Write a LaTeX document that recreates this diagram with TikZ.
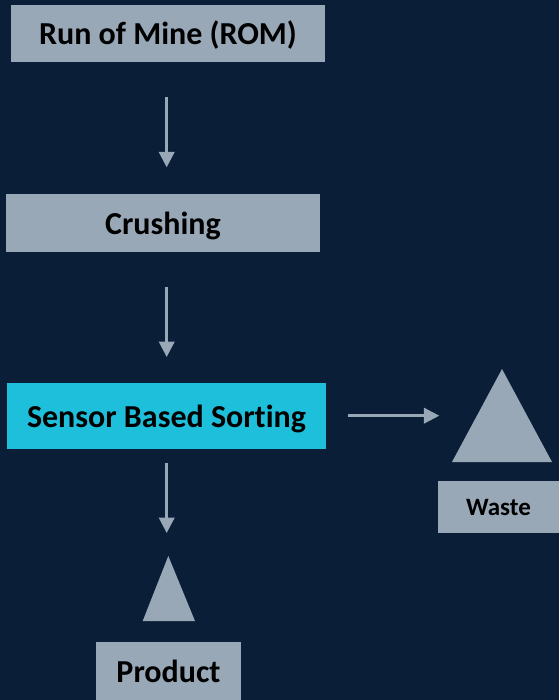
\documentclass[tikz,border=0pt]{standalone}
\usepackage{fontspec}
\setmainfont{Carlito}[Ligatures=NoCommon]
\usetikzlibrary{arrows.meta}
\definecolor{bgnavy}{HTML}{0A1E37}
\definecolor{boxgray}{HTML}{98A8B7}
\definecolor{boxcyan}{HTML}{1EBFDB}
\tikzset{
  px/.style={x=1pt,y=-1pt},
  procbox/.style={fill=boxgray, inner sep=0pt, text height=26pt, text depth=3pt, font=\bfseries\fontsize{32}{38}\selectfont, text=black},
  endbox/.style={fill=boxgray, inner sep=0pt, text height=20pt, text depth=3.2pt, font=\bfseries\fontsize{25}{30}\selectfont, text=black},
  flowarr/.style={draw=boxgray, line width=2.6pt, -{Triangle[length=15.5pt,width=15.5pt]}},
  pile/.style={fill=boxgray}
}
\begin{document}
\begin{tikzpicture}[px]
\fill[bgnavy] (0,0) rectangle (559,700);
\useasboundingbox (0,0) rectangle (559,700);
\node[procbox, minimum width=314pt, minimum height=57pt] (rom) at (168,33.5) {Run of Mine (ROM)};
\node[procbox, minimum width=314pt, minimum height=58pt] (crush) at (163,223) {Crushing};
\node[procbox, fill=boxcyan, minimum width=319pt, minimum height=66pt] (sbs) at (166.5,416) {Sensor Based Sorting};
\node[endbox, minimum width=121pt, minimum height=52pt] (waste) at (498.5,507) {Waste};
\node[procbox, minimum width=145pt, minimum height=58pt] (product) at (168.5,671) {Product};
% piles
\coordinate (wtop) at (502,369);
\coordinate (wl) at (452,462);
\coordinate (wr) at (552,462);
\fill[pile] (wtop) -- (wr) -- (wl) -- cycle;
\coordinate (ptop) at (168.3,556);
\coordinate (pl) at (142.7,621);
\coordinate (pr) at (195,621);
\fill[pile] (ptop) -- (pr) -- (pl) -- cycle;
% arrow ends
\coordinate (a1s) at (166.7,97.3);
\coordinate (a1e) at (166.7,167.3);
\coordinate (a2s) at (166.7,287);
\coordinate (a2e) at (166.7,357);
\coordinate (a3s) at (166.7,463);
\coordinate (a3e) at (166.7,533);
\coordinate (a4s) at (348,415.7);
\coordinate (a4e) at (439.3,415.7);
\draw[flowarr] (a1s) -- (a1e);
\draw[flowarr] (a2s) -- (a2e);
\draw[flowarr] (a3s) -- (a3e);
\draw[flowarr] (a4s) -- (a4e);
\end{tikzpicture}
\end{document}
